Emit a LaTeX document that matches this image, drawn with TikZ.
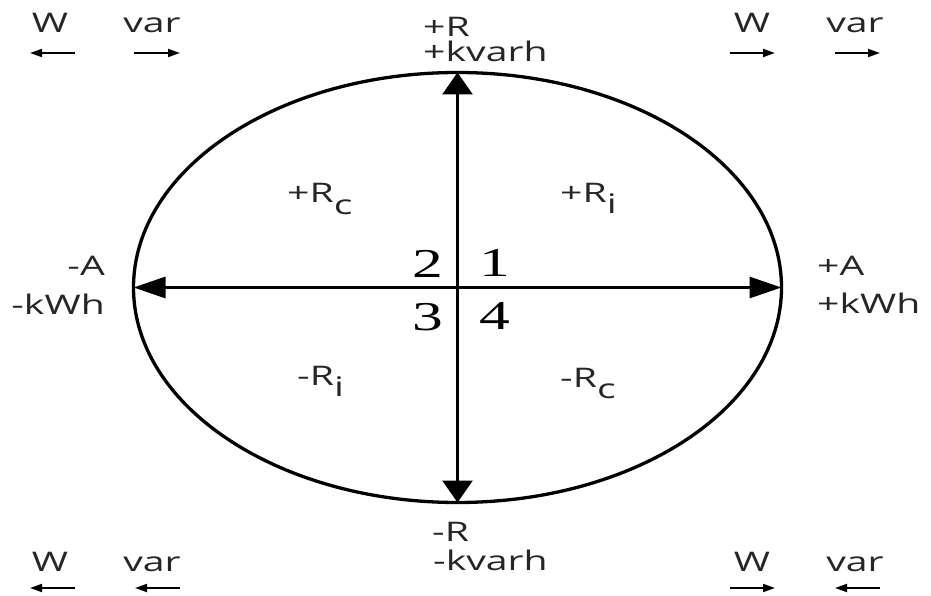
\documentclass[tikz,border=0pt]{standalone}
\usepackage{fontspec}
\setmainfont{Open Sans}[FakeStretch=1.45]
\newfontfamily\numfont{Liberation Serif}[FakeStretch=1.5]
\usetikzlibrary{arrows.meta,shapes.geometric}
\newcommand\lsub[1]{\raisebox{-0.42em}{#1}}
\begin{document}
\begin{tikzpicture}[x=1pt,y=-1pt,
  lbl/.style={inner sep=0pt, text=black!85, font=\fontsize{27}{27}\selectfont},
  num/.style={inner sep=0pt, font=\numfont\fontsize{41}{41}\selectfont},
  haxis/.style={line width=3pt, {Triangle[length=32pt,width=21pt]}-{Triangle[length=32pt,width=21pt]}},
  vaxis/.style={line width=3pt, {Triangle[length=22pt,width=30pt]}-{Triangle[length=22pt,width=30pt]}},
  small/.style={line width=1.8pt, -{Triangle[length=12pt,width=8pt]}}]
\useasboundingbox (0,0) rectangle (931,596);
\node[draw, ellipse, line width=3.3pt, minimum width=648pt, minimum height=430pt, inner sep=0pt, outer sep=0pt] (circ) at (457.5,287.5) {};
\draw[haxis] (circ.west) -- (circ.east);
\draw[vaxis] (circ.south) -- (circ.north);
% numbers
\node[num, anchor=base] (q2) at (428,277) {2};
\node[num, anchor=base] (q1) at (495,276) {1};
\node[num, anchor=base] (q3) at (428,330) {3};
\node[num, anchor=base] (q4) at (495,329) {4};
% quadrant labels
\node[lbl, anchor=base west] (rc1) at (287,203) {+R\lsub{c}};
\node[lbl, anchor=base west] (ri1) at (560,202) {+R\lsub{i}};
\node[lbl, anchor=base west] (ri2) at (297,385) {-R\lsub{i}};
\node[lbl, anchor=base west] (rc2) at (560,387) {-R\lsub{c}};
% axis labels
\node[lbl, anchor=base west] (pr) at (423,37) {+R};
\node[lbl, anchor=base west] (pk) at (423,62) {+kvarh};
\node[lbl, anchor=base west] (mr) at (432,541) {-R};
\node[lbl, anchor=base west] (mk) at (433,570) {-kvarh};
\node[lbl, anchor=base east] (ma) at (105,275) {-A};
\node[lbl, anchor=base east] (mw) at (105,314) {-kWh};
\node[lbl, anchor=base west] (pa) at (817,275) {+A};
\node[lbl, anchor=base west] (pw) at (817,313) {+kWh};
% corner labels
\node[lbl, anchor=base] (w1) at (50,33) {W};
\node[lbl, anchor=base] (v1) at (152,33) {var};
\node[lbl, anchor=base] (w2) at (752,33) {W};
\node[lbl, anchor=base] (v2) at (855,33) {var};
\node[lbl, anchor=base] (w3) at (50,571) {W};
\node[lbl, anchor=base] (v3) at (152,571) {var};
\node[lbl, anchor=base] (w4) at (752,571) {W};
\node[lbl, anchor=base] (v4) at (855,571) {var};
% small arrows
\coordinate (a1s) at (75,53); \coordinate (a1e) at (30,53);
\coordinate (b1s) at (134,53); \coordinate (b1e) at (180,53);
\coordinate (a2s) at (730,53); \coordinate (a2e) at (775,53);
\coordinate (b2s) at (835,53); \coordinate (b2e) at (880,53);
\coordinate (a3s) at (75,588); \coordinate (a3e) at (30,588);
\coordinate (b3s) at (180,588); \coordinate (b3e) at (135,588);
\coordinate (a4s) at (730,588); \coordinate (a4e) at (775,588);
\coordinate (b4s) at (880,588); \coordinate (b4e) at (835,588);
\draw[small] (a1s) -- (a1e);
\draw[small] (b1s) -- (b1e);
\draw[small] (a2s) -- (a2e);
\draw[small] (b2s) -- (b2e);
\draw[small] (a3s) -- (a3e);
\draw[small] (b3s) -- (b3e);
\draw[small] (a4s) -- (a4e);
\draw[small] (b4s) -- (b4e);
\end{tikzpicture}
\end{document}
